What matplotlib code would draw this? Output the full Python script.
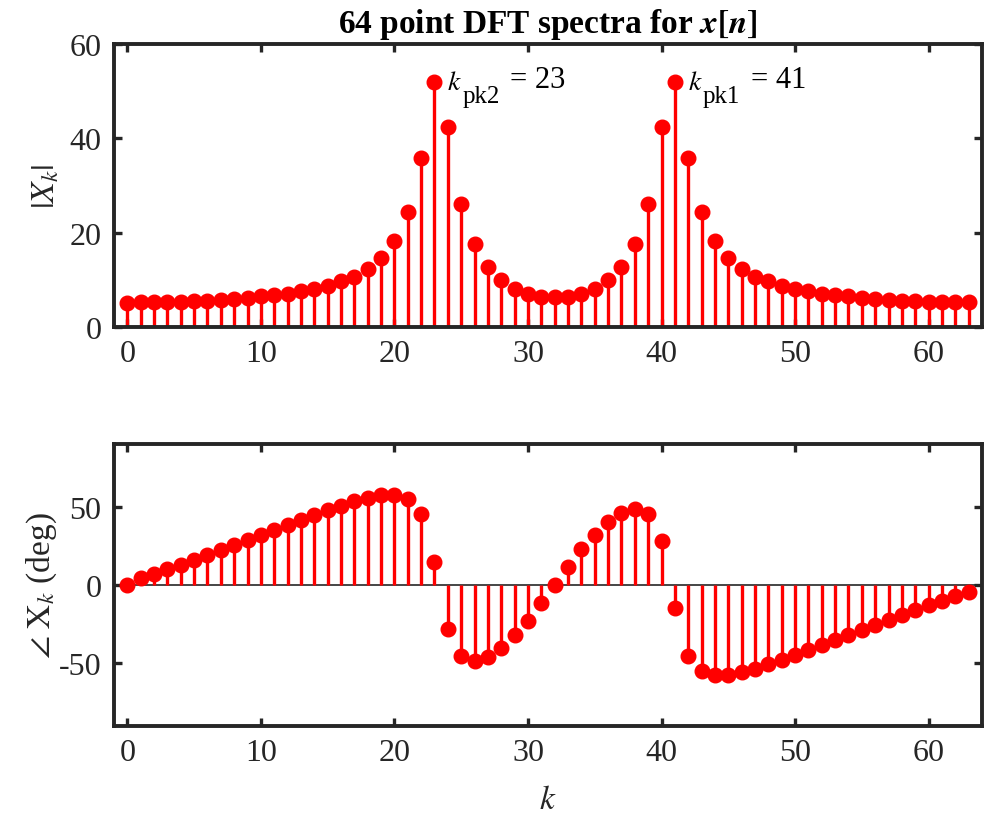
import numpy as np
import matplotlib
matplotlib.use("Agg")
from matplotlib import pyplot as plt

# DFT bin index and values
k = np.arange(64)

magnitude = [5.1, 5.2, 5.2, 5.3, 5.4, 5.5, 5.6, 5.8, 6.0, 6.2,
             6.5, 6.7, 7.1, 7.6, 8.1, 8.7, 9.7, 10.6, 12.3, 14.6,
             18.3, 24.4, 35.8, 52.0, 42.3, 26.1, 17.5, 12.7, 9.9, 8.1,
             7.0, 6.4, 6.3, 6.4, 7.0, 8.1, 9.9, 12.7, 17.5, 26.1,
             42.3, 52.0, 35.8, 24.4, 18.3, 14.6, 12.3, 10.6, 9.7, 8.7,
             8.1, 7.6, 7.1, 6.7, 6.5, 6.2, 6.0, 5.8, 5.6, 5.5,
             5.4, 5.3, 5.2, 5.2]

phase_deg = [0.0, 4.2, 7.3, 10.5, 13.0, 16.2, 19.3, 22.5, 25.8, 29.0,
             31.9, 35.3, 38.2, 41.4, 44.7, 47.6, 50.6, 53.5, 55.6, 57.3,
             57.7, 55.2, 45.1, 14.7, -27.9, -45.1, -48.3, -46.2, -39.9, -31.9,
             -22.7, -11.5, 0.0, 11.5, 22.7, 31.9, 39.9, 46.2, 48.3, 45.1,
             27.9, -14.7, -45.1, -55.2, -57.7, -57.3, -55.6, -53.5, -50.6, -47.6,
             -44.7, -41.4, -38.2, -35.3, -31.9, -29.0, -25.8, -22.5, -19.3, -16.2,
             -13.0, -10.5, -7.3, -4.2]

# peak bin, subscript, value text
peak_labels = [(23, "pk2", "= 23"), (41, "pk1", "= 41")]

plt.rcParams["font.family"] = ["Liberation Serif", "DejaVu Serif"]
plt.rcParams["mathtext.fontset"] = "stix"
plt.rcParams["axes.unicode_minus"] = False

axis_color = "#262626"
fs = 23

fig = plt.figure(figsize=(9.85, 8.2), dpi=100)
ax1 = fig.add_axes([114 / 985, 1 - 328 / 820, 868 / 985, 283 / 820])
ax2 = fig.add_axes([114 / 985, 1 - 727 / 820, 868 / 985, 282 / 820])


def draw_stem(ax, values):
    markers, stems, base = ax.stem(k, values, linefmt="r-", markerfmt="ro", basefmt=" ")
    plt.setp(stems, linewidth=2.4, color="#ff0000")
    plt.setp(markers, markersize=10.5, color="#ff0000", zorder=3)


def style_axis(ax):
    for s in ax.spines.values():
        s.set_linewidth(2.8)
        s.set_color(axis_color)
    ax.tick_params(direction="in", length=6, width=2.4, colors=axis_color,
                   labelsize=fs, top=True, right=True, pad=9)
    for lab in ax.get_xticklabels() + ax.get_yticklabels():
        lab.set_color(axis_color)


draw_stem(ax1, magnitude)
ax1.set_xlim(-1, 64)
ax1.set_ylim(0, 60)
ax1.set_xticks(np.arange(0, 61, 10))
ax1.set_yticks([0, 20, 40, 60])
ax1.set_ylabel(r"$|X_k|$", fontsize=fs + 1, color=axis_color, labelpad=6)
ax1.set_title(r"64 point DFT spectra for $\mathbfit{x}\mathbf{[}\mathbfit{n}\mathbf{]}$",
              fontsize=fs + 1, fontweight="bold", pad=9)
# MATLAB-style tex label: k, lowered subscript, then "= value"
for kp, sub, val in peak_labels:
    xy = (kp, magnitude[kp])
    ax1.annotate(r"$k$", xy, xytext=(13, -7), textcoords="offset pixels",
                 fontsize=20, va="baseline", ha="left")
    ax1.annotate(sub, xy, xytext=(28, -20), textcoords="offset pixels",
                 fontsize=18, va="baseline", ha="left")
    ax1.annotate(val, xy, xytext=(76, -5), textcoords="offset pixels",
                 fontsize=22, va="baseline", ha="left")
style_axis(ax1)

ax2.axhline(0, color=axis_color, linewidth=1.2, zorder=1)
draw_stem(ax2, phase_deg)
ax2.set_xlim(-1, 64)
ax2.set_ylim(-90, 90)
ax2.set_xticks(np.arange(0, 61, 10))
ax2.set_yticks([-50, 0, 50])
ax2.set_ylabel(r"$\angle\ \mathrm{X}_k$ (deg)", fontsize=fs + 1, color=axis_color, labelpad=0)
ax2.set_xlabel(r"$k$", fontsize=fs + 1, color=axis_color, labelpad=12)
style_axis(ax2)

fig.savefig("out.png", dpi=100)
